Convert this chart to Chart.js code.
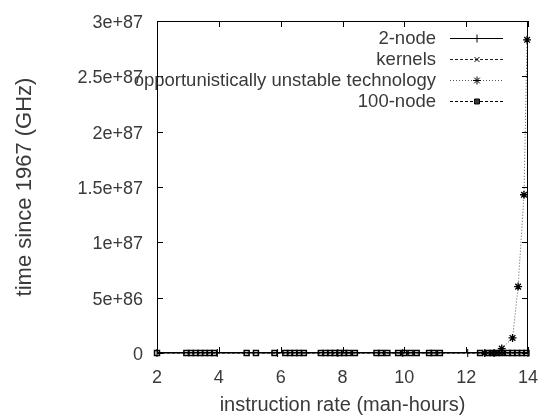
<!DOCTYPE html>
<html>
<head>
<meta charset="utf-8">
<script src="https://cdn.jsdelivr.net/npm/chart.js@4/dist/chart.umd.min.js"></script>
<style>
  body { margin: 0; background: #fff; }
  canvas { display: block; }
</style>
</head>
<body>
<canvas id="plot" width="544" height="419"></canvas>
<script>
// series
const seriesNames = ['2-node', 'kernels', 'opportunistically unstable technology', '100-node'];

const twoNodeX = [2, 3.95, 5.9, 7.85, 9.95, 12.05, 14];
const twoNodeY = [0, 0, 0, 0, 0, 0, 0];

const kernelsX = [12.8, 12.95, 13.1, 13.2];
const kernelsY = [0, 0, 0, 0];

const unstableX = [12.6, 12.9, 13.15, 13.5, 13.68, 13.87, 13.97];
const unstableY = [0, 0, 4e85, 1.36e86, 6e86, 1.43e87, 2.83e87];

const node100X = [2.0, 2.95, 3.1, 3.25, 3.4, 3.55, 3.7, 3.85, 4.9, 5.2, 5.8,
    6.15, 6.3, 6.45, 6.6, 6.75, 7.3, 7.45, 7.6, 7.75, 7.9, 8.05, 8.2, 8.4,
    9.1, 9.25, 9.45, 9.8, 10.0, 10.2, 10.4, 10.8, 10.95, 11.15,
    12.45, 12.7, 12.85, 13.0, 13.15, 13.35, 13.5, 13.65, 13.8, 13.95];
const node100Y = node100X.map(() => 0);

const xTicks = [2, 4, 6, 8, 10, 12, 14];
const yTicks = [0, 5e86, 1e87, 1.5e87, 2e87, 2.5e87, 3e87];
const yTickLabels = ['0', '5e+86', '1e+87', '1.5e+87', '2e+87', '2.5e+87', '3e+87'];

const textColor = '#3a3a3a';
const font = 'Liberation Sans, Arial, sans-serif';

function pts(xs, ys) {
    return xs.map((x, i) => ({ x: x, y: ys[i] }));
}

// gnuplot style box, inward ticks and the legend
const gnuplotFrame = {
    id: 'gnuplotFrame',
    afterDatasetsDraw(chart) {
        const ctx = chart.ctx;
        const a = chart.chartArea;
        const xs = chart.scales.x, ys = chart.scales.y;
        ctx.save();
        ctx.strokeStyle = '#000';
        ctx.lineWidth = 1;
        ctx.setLineDash([]);
        ctx.strokeRect(a.left + 0.5, a.top + 0.5, a.right - a.left - 1, a.bottom - a.top - 1);
        ctx.beginPath();
        xTicks.forEach(v => {
            const px = Math.round(xs.getPixelForValue(v)) + 0.5;
            ctx.moveTo(px, a.bottom); ctx.lineTo(px, a.bottom - 6);
            ctx.moveTo(px, a.top); ctx.lineTo(px, a.top + 6);
        });
        yTicks.forEach(v => {
            const py = Math.round(ys.getPixelForValue(v)) + 0.5;
            ctx.moveTo(a.left, py); ctx.lineTo(a.left + 6, py);
            ctx.moveTo(a.right, py); ctx.lineTo(a.right - 6, py);
        });
        ctx.stroke();

        // legend, text right aligned, sample on the right
        ctx.font = '18.5px ' + font;
        ctx.textAlign = 'right';
        ctx.textBaseline = 'middle';
        chart.data.datasets.forEach((ds, i) => {
            const y = a.top + 17 + i * 21;
            ctx.fillStyle = textColor;
            ctx.fillText(ds.label, a.right - 92, y + 1);
            ctx.strokeStyle = ds.borderColor;
            ctx.lineWidth = 1;
            ctx.setLineDash(ds.borderDash || []);
            ctx.beginPath();
            ctx.moveTo(a.right - 78, y + 0.5);
            ctx.lineTo(a.right - 25, y + 0.5);
            ctx.stroke();
            ctx.setLineDash([]);
            ctx.strokeStyle = '#000';
            Chart.helpers.drawPoint(ctx, {
                pointStyle: ds.pointStyle, radius: ds.pointRadius,
                rotation: ds.rotation || 0, borderWidth: ds.pointBorderWidth
            }, a.right - 51, y + 0.5);
        });
        ctx.restore();
    }
};

new Chart(document.getElementById('plot').getContext('2d'), {
    type: 'scatter',
    data: {
        datasets: [{
            label: seriesNames[0],
            data: pts(twoNodeX, twoNodeY),
            showLine: true,
            borderColor: '#000',
            backgroundColor: 'transparent',
            borderWidth: 1,
            pointStyle: 'line',
            rotation: 90,
            pointRadius: 4,
            pointBorderWidth: 1,
            clip: false
        }, {
            label: seriesNames[1],
            data: pts(kernelsX, kernelsY),
            showLine: true,
            borderColor: '#222',
            pointBorderColor: '#000',
            backgroundColor: 'transparent',
            borderWidth: 1,
            borderDash: [3, 2],
            pointStyle: 'crossRot',
            pointRadius: 3.5,
            pointBorderWidth: 1.3,
            clip: false
        }, {
            label: seriesNames[2],
            data: pts(unstableX, unstableY),
            showLine: true,
            borderColor: '#555',
            pointBorderColor: '#000',
            backgroundColor: 'transparent',
            borderWidth: 1,
            borderDash: [1, 2],
            pointStyle: 'star',
            pointRadius: 4,
            pointBorderWidth: 1.3,
            clip: false
        }, {
            label: seriesNames[3],
            data: pts(node100X, node100Y),
            showLine: true,
            borderColor: '#000',
            pointBorderColor: '#000',
            backgroundColor: 'transparent',
            borderWidth: 1,
            borderDash: [3, 2],
            pointStyle: 'rect',
            pointRadius: 3.5,
            pointBorderWidth: 1.5,
            clip: false
        }]
    },
    options: {
        responsive: false,
        animation: false,
        layout: { padding: { top: 21, right: 16, left: 0, bottom: 0 } },
        plugins: {
            legend: { display: false },
            tooltip: { enabled: false }
        },
        elements: { line: { tension: 0 } },
        scales: {
            x: {
                type: 'linear',
                min: 2,
                max: 14,
                afterBuildTicks: s => { s.ticks = xTicks.map(v => ({ value: v })); },
                afterFit: s => { s.height = 66; s.paddingLeft = 0; s.paddingRight = 0; },
                grid: { display: false, drawTicks: false },
                border: { display: false },
                ticks: { color: textColor, font: { family: font, size: 18 }, padding: 14, maxRotation: 0 },
                title: {
                    display: true,
                    text: 'instruction rate (man-hours)',
                    color: textColor,
                    font: { family: font, size: 20 },
                    padding: { top: 0, bottom: 2 }
                }
            },
            y: {
                type: 'linear',
                min: 0,
                max: 3e87,
                afterBuildTicks: s => { s.ticks = yTicks.map(v => ({ value: v })); },
                afterFit: s => { s.width = 157; s.paddingTop = 0; s.paddingBottom = 0; },
                grid: { display: false, drawTicks: false },
                border: { display: false },
                ticks: {
                    color: textColor,
                    font: { family: font, size: 18 },
                    padding: 14,
                    labelOffset: 2,
                    callback: (v, i) => yTickLabels[i]
                },
                title: {
                    display: true,
                    text: 'time since 1967 (GHz)',
                    color: textColor,
                    font: { family: font, size: 22 },
                    padding: { top: 12, bottom: 0 }
                }
            }
        }
    },
    plugins: [gnuplotFrame]
});
</script>
</body>
</html>
